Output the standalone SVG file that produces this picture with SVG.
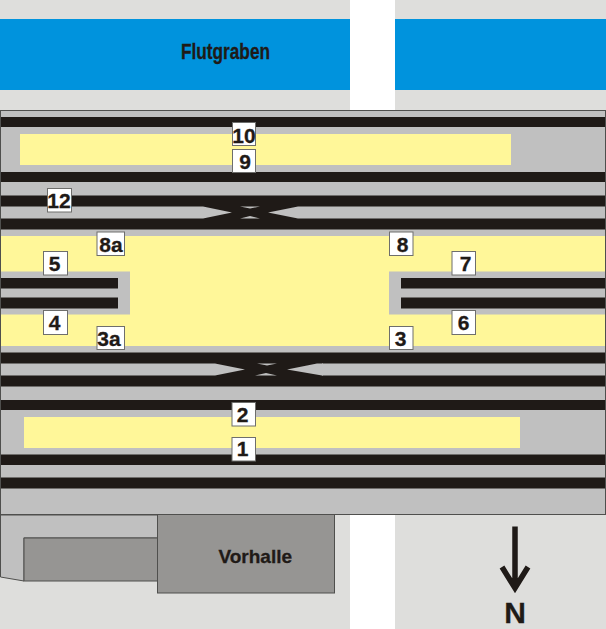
<svg xmlns="http://www.w3.org/2000/svg" width="606" height="629" viewBox="0 0 606 629">
<style>
.t{fill:#1f1a17}
.g{fill:#c0c0c0}
.y{fill:#fff799}
.b{fill:#969593;stroke:#4f4f4d;stroke-width:1}
.l rect{fill:#fff;stroke:#6e6e6c;stroke-width:1}
.l text,.x{font-family:"Liberation Sans",Arial,sans-serif;font-weight:700;fill:#1f1a17;stroke:#1f1a17;stroke-width:.3}
.l text{font-size:21px;text-anchor:middle}
</style>
<rect width="606" height="629" fill="#dededc"/>
<g id="water" fill="#0093dd"><rect x="0" y="19" width="350" height="71"/><rect x="395" y="19" width="211" height="71"/></g>
<g id="road" fill="#fff"><rect x="350" y="0" width="45" height="110"/><rect x="350" y="515" width="45" height="114"/></g>
<text class="x" x="181" y="59.300" font-size="22" textLength="89" lengthAdjust="spacingAndGlyphs">Flutgraben</text>
<path id="forecourt" class="g" d="M0.5 515H158V538H24V581L0.5 577Z" stroke="#4f4f4d"/>
<rect id="hall-low" class="b" x="24" y="538" width="134" height="43"/>
<g id="vorhalle"><rect class="b" x="157.500" y="514.500" width="177" height="78.500"/><text class="x" x="218.500" y="562.700" font-size="19">Vorhalle</text></g>
<rect id="station" class="g" x="0.500" y="110.500" width="605" height="404" stroke="#4f4f4d"/>
<g id="platforms">
<rect class="y" x="20" y="134" width="491" height="31"/>
<rect class="y" x="1" y="236" width="604" height="110"/>
<rect class="y" x="24" y="417" width="496" height="31"/>
<rect class="g" x="1" y="271.500" width="129" height="43"/>
<rect class="g" x="389" y="271.500" width="216" height="43"/>
</g>
<g id="tracks">
<rect class="t" x="1" y="117" width="604" height="10"/>
<rect class="t" x="1" y="172" width="604" height="10"/>
<rect class="t" x="1" y="195.500" width="604" height="11"/>
<rect class="t" x="1" y="218.500" width="604" height="11"/>
<rect class="t" x="1" y="278" width="117" height="10.500"/>
<rect class="t" x="1" y="297.500" width="117" height="11"/>
<rect class="t" x="401" y="278" width="204" height="10.500"/>
<rect class="t" x="401" y="297.500" width="204" height="11"/>
<rect class="t" x="1" y="352.500" width="604" height="11"/>
<rect class="t" x="1" y="375.500" width="604" height="11"/>
<rect class="t" x="1" y="400" width="604" height="10"/>
<rect class="t" x="1" y="454.500" width="604" height="10.500"/>
<rect class="t" x="1" y="477.500" width="604" height="11"/>
<rect class="t" x="203" y="206" width="95" height="13"/>
<rect class="t" x="215" y="363" width="107" height="13"/>
<path class="g" d="M203 206.500L232 212.500L203 218.500ZM298 206.500L268 212.500L298 218.500ZM240 206.500L250 208.500L260 206.500ZM240 218.500L250 216L260 218.500Z"/>
<path class="g" d="M215 363.500L245 369.500L215 375.500ZM323 363.500H317L287 369.500L322 375.500H323ZM257 363.500L267 365.500L277 363.500ZM255 375.500L266 373L277 375.500Z"/>
</g>
<g id="north"><path d="M515 526.500V588M502 567L515 588L528 567" fill="none" stroke="#1f1a17" stroke-width="5.500"/><text class="x" x="515" y="622.500" font-size="30" text-anchor="middle">N</text></g>
<g class="l">
<g id="l10"><rect x="232.500" y="122.500" width="23" height="23"/><text x="244" y="142.700">10</text></g>
<g id="l9"><rect x="232.500" y="149.500" width="23" height="23"/><text x="245" y="168.700">9</text></g>
<g id="l12"><rect x="47.500" y="188.500" width="24" height="23.500"/><text x="59" y="208">12</text></g>
<g id="l8a"><rect x="97" y="232" width="27.500" height="23.500"/><text x="111" y="251.700">8a</text></g>
<g id="l5"><rect x="43.500" y="251.500" width="24" height="23.500"/><text x="54.500" y="270.700">5</text></g>
<g id="l4"><rect x="43.500" y="310.500" width="24" height="24"/><text x="54.500" y="329.500">4</text></g>
<g id="l3a"><rect x="97" y="326.500" width="27.500" height="23"/><text x="109" y="345.700">3a</text></g>
<g id="l8"><rect x="389.500" y="232" width="23.500" height="23.500"/><text x="402.500" y="252">8</text></g>
<g id="l7"><rect x="452" y="251.500" width="23.500" height="23.500"/><text x="465.500" y="270.700">7</text></g>
<g id="l6"><rect x="452" y="310.500" width="23.500" height="24"/><text x="463.500" y="330">6</text></g>
<g id="l3"><rect x="389.500" y="326.500" width="23.500" height="23"/><text x="400.500" y="346">3</text></g>
<g id="l2"><rect x="232" y="402.500" width="23.500" height="23.500"/><text x="242.500" y="421.700">2</text></g>
<g id="l1"><rect x="232" y="437.500" width="23.500" height="23.500"/><text x="242.500" y="456">1</text></g>
</g>
</svg>
